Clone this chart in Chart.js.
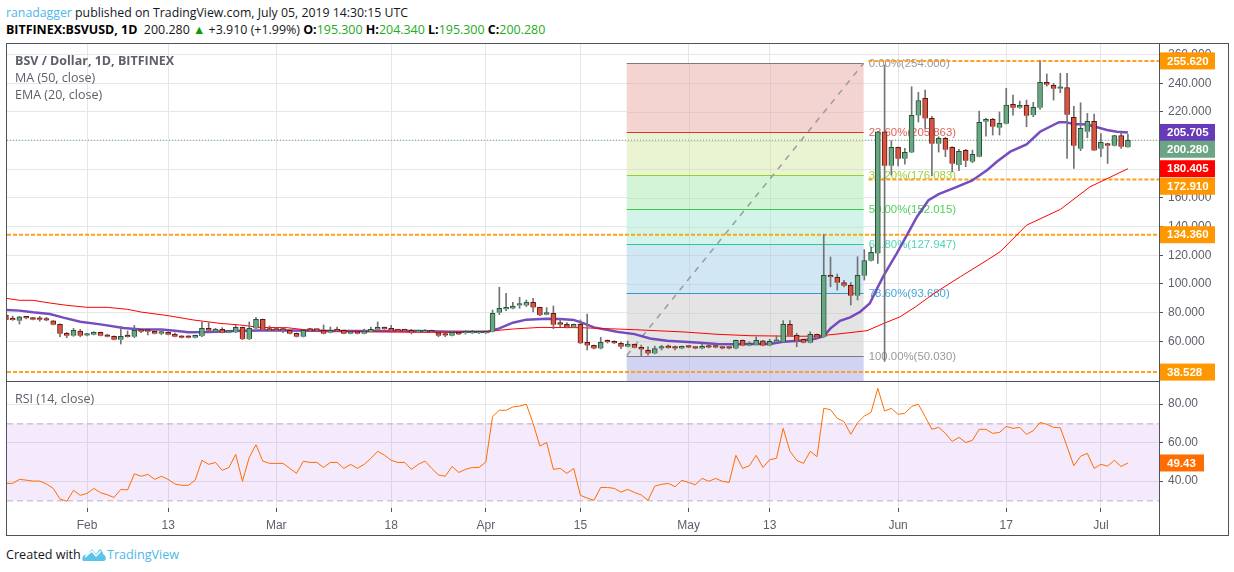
<!DOCTYPE html>
<html>
<head>
<meta charset="utf-8">
<title>BSV / Dollar</title>
<script src="https://cdn.jsdelivr.net/npm/chart.js@4/dist/chart.umd.min.js"></script>
<style>
  body { margin: 0; background: #fff; width: 1234px; height: 572px; overflow: hidden; font-family: "Open Sans", sans-serif; }
  canvas { position: absolute; }
  .txt { position: absolute; white-space: nowrap; }
  .line1 { left: 6px; top: 4px; font-size: 12.3px; color: #131722; }
  .line2 { left: 6px; top: 21px; font-size: 12.45px; color: #131722; }
  .line2 b { color: #000; }
  .up { color: #22ab22; }
  .blue { color: #4db8e8; }
  .leg { left: 15px; font-size: 12.5px; color: #5d606b; z-index: 2; }
  #frame { position: absolute; left: 6px; top: 43px; width: 1221px; height: 491px; border: 1px solid #50535e; z-index: 3; pointer-events: none; }
  #sep { position: absolute; left: 6px; top: 381px; width: 1153px; height: 1px; background: #50535e; z-index: 3; }
  #sep2 { position: absolute; left: 1159px; top: 44px; width: 1px; height: 491px; background: #50535e; z-index: 3; }
  #brand { left: 6px; top: 546px; font-size: 12.6px; color: #131722; }
  #brand2 { left: 107px; top: 546px; font-size: 12.6px; }
  #logo { position: absolute; left: 82px; top: 546px; }
</style>
</head>
<body>
<div class="txt line1"><span class="blue">ranadagger</span> published on TradingView.com, July 05, 2019 14:30:15 UTC</div>
<div class="txt line2"><b>BITFINEX:BSVUSD, 1D</b>&nbsp; 200.280 <span style="color:#0a9a0a">▲</span> +3.910 (+1.99%) <b>O:</b><span class="up">195.300</span> <b>H:</b><span class="up">204.340</span> <b>L:</b><span class="up">195.300</span> <b>C:</b><span class="up">200.280</span></div>
<div id="frame"></div><div id="sep"></div><div id="sep2"></div>
<canvas id="price" width="1221" height="337" style="left:7px;top:44px"></canvas>
<canvas id="rsi" width="1221" height="154" style="left:7px;top:381px"></canvas>
<div class="txt leg" style="top:52px"><b>BSV / Dollar, 1D, BITFINEX</b></div>
<div class="txt leg" style="top:69px">MA (50, close)</div>
<div class="txt leg" style="top:86px">EMA (20, close)</div>
<div class="txt leg" style="top:390px">RSI (14, close)</div>
<div class="txt" id="brand">Created with</div>
<div class="txt blue" id="brand2">TradingView</div>
<svg id="logo" width="24" height="16" viewBox="0 0 24 16"><path d="M1 15 C-1 11 2 8 5 9 L10 3 L14 8 L18 3 C20 4 21 6 21 8 C24 9 25 14 22 15 Z" fill="#5cc3ea"/><path d="M3 11 L10 5 L14 10 L19 5" fill="none" stroke="#fff" stroke-width="1.5"/></svg>

<script>
// days are counted from Feb 1 2019, first candle is Jan 20
const firstDay = -12
const opens = [
  78.3,74.9,74.4,76.7,76.2,76.2,75.8,74.2,71.8,65.5,
  63.9,67.2,64,64.6,66.2,64.4,63.5,61.1,63.7,63.2,
  68.1,67.2,66.9,65.3,66.2,65.1,63.7,63.7,62.5,63.5,
  69,67.2,68.3,66,66.5,69.7,61.4,69,75.3,68.3,
  67.7,67.7,67.6,65.6,63.2,68.3,67.9,67.6,66,67.6,
  67.6,65.3,66.5,65.3,66.7,68.1,69.7,69,67.6,67.4,
  67.6,66.5,66.5,67.6,66,64.4,63.9,66.2,65.6,65.6,
  65.6,65.6,66.7,80,82.3,82.8,85,84.9,87.2,83.7,
  78.6,79.5,72.1,71.8,70,71.8,59.3,57.2,54.9,60.4,
  59.5,58.6,56.2,57.9,55.8,53.7,51.4,54.9,55.8,56,
  54.9,56.5,55.8,54.9,56.5,56,55.8,55.8,54.9,60.7,
  57,57.6,60.4,57,59.7,59.7,71.8,64.2,61.4,59,
  64.8,63,106,104.6,101,99,91.8,105.7,116.2,121.3,
  206.2,182.5,195.3,187.4,191.8,217.6,229.5,215.5,197.8,201.6,
  195.3,183,193.2,185.3,188.8,213.2,214.8,209,211.8,225.3,
  223,224.6,218,223,240.6,238.5,236.2,237.1,216.2,194.3,
  206.2,213.4,194.3,198,196.4,203.6,195.3
]
const highs = [
  78.6,77.6,77.3,77.2,76.5,77.4,76.7,74.5,72.1,66.2,
  69,68.3,65.3,66.7,66.5,64.8,63.8,70.2,67.2,71.1,
  68.6,67.4,67.1,67.2,66.4,65.8,63.9,63.9,64.4,73.5,
  73,69,69.5,67.1,71.1,69.9,73.5,76.7,75.5,70.7,
  69.7,69.7,67.8,65.8,67.8,69,68.1,71.4,70,70,
  67.8,66.9,66.7,68.6,70,73.5,69.9,71.1,67.8,67.6,
  68.3,67.2,68.2,67.8,66.9,65.5,67.2,66.9,67.4,67.6,
  66.7,66.9,81.8,97.7,93.5,87.2,90.7,88.8,90,83.9,
  83.5,84.6,75.8,73,72,74.9,79,57.4,62.8,61,
  60.4,59.7,60.2,58.1,57.4,56.2,56.7,57.2,57.4,56.7,
  56.7,56.9,56,58.1,57.6,58.1,56,56,60.9,60.9,
  59.7,63.2,60.6,61.4,63.9,74.4,74.4,65.6,61.6,66.6,
  65,134.6,118.8,106.9,102.6,101,119,124,125.9,206.4,
  252.7,200,195.5,194.6,237.6,233.7,235.3,217,202.7,202.3,
  195.8,193.9,193.9,193.4,220.6,215.5,215.5,220,236.5,231.8,
  227.6,228.3,226.7,255.8,246.5,240,246.9,246.9,224,226.4,
  219,218.5,205,198.2,203.8,205.5,204.34
]
const lows = [
  74.5,74.6,72,75.6,74.9,74,74.3,71.4,63.2,62.5,
  63.5,63.2,63.8,64.4,63.7,63,60.9,58.1,62.8,62.5,
  66,64.4,65.1,64.6,64.4,63,62.3,62.3,62.3,63.3,
  67.2,67,65.8,65.8,66,61.2,61.2,68.8,67.9,67.2,
  67.2,66,65.1,63,63,67.2,67.2,65.1,65.8,67,
  65.1,65.1,65.1,65.1,66.5,67.4,68.4,67.2,67,67,
  65.1,66.3,66.3,66,63.2,63.2,63.7,64.6,65,65.4,
  65.4,65.4,66.5,78.6,81.4,82.6,83,84.2,80.5,77.9,
  78.4,68.8,70.2,69.3,69.8,58.4,53.9,54.7,54.7,58.8,
  58.4,54.9,56,55.3,50,50.4,51.2,53.9,55.1,53.9,
  54.7,55.4,54.7,54.7,55.4,55.4,54.7,54.7,54.7,56.8,
  56.8,57.4,56.8,56.8,59.5,59.5,63.7,56.2,58.8,58.8,
  62.3,62.8,98,95.7,98,85.3,88.8,102.7,115.9,114.3,
  46,176,182.3,183.6,191.6,213,208.5,175.3,192,188.8,
  178.3,179,181.8,184.6,188.6,203.2,203.9,203.9,211.6,217.8,
  222.5,209.7,216.7,221.8,238,228.3,233.4,187.6,180.6,193,
  202,193,188.8,184.1,196.2,194.6,195.3
]
const closes = [
  74.9,74.8,77,76,75.1,75,74.5,71.6,65.3,63.9,
  67.6,63.9,65.1,66.2,63.9,63.2,61.1,63.5,63,67.6,
  66.7,66.7,65.3,66.5,64.6,63.2,62.5,62.5,64.2,69,
  67.4,68.3,66,66.9,69.7,61.4,69,75.3,68.1,67.4,
  67.4,67.4,65.3,63.2,67.6,67.4,67.4,65.3,67.6,67.2,
  65.3,66.7,65.3,67.2,68.3,69.7,68.6,67.4,67.2,67.2,
  66,67,67.6,66.2,63.9,64,66.2,64.8,66.5,66.5,
  66.3,66.5,79.5,83,83.2,84.6,85.2,87.4,83.5,78.1,
  79.5,71.6,71.6,70,71.8,58.6,57,54.9,59.3,59.3,
  58.6,56.2,58.1,55.5,54.2,51.4,55,55.8,55.4,54.9,
  56.5,55.6,54.9,56.5,55.6,55.6,54.9,54.9,60.7,57,
  58.1,60.7,57,60,60.2,71.8,63.9,60.2,59,64.8,
  62.5,106,104.8,100.8,98.8,91.8,106,116.4,122,206.2,
  182.5,195.3,187.4,191.8,217.6,228,215.5,197.8,201.6,193.6,
  183.9,192.5,186,190.4,212.7,214.8,209.7,212,224.8,223,
  224.6,217.4,223.2,240.6,239,236.2,237.1,218,196.4,208.5,
  213.4,193.2,198.8,196.4,203.6,195.7,200.28
]
// EMA and MA were read at these days only
const emaDays = [-12,-10,-8,-5.5,-3.5,-1,2,5.4,8,11,13,15,18,22,27,36.5,49,53.7,59.3,61,63,65,68,70,72,73.5,75,78.4,81,83.3,85.8,88.3,90.7,93.2,95.7,98.1,101,103,105.5,107.7,109,110,111.4,112.9,114.4,115.8,116.9,117.9,119.8,121.3,122.8,124.5,126,128.7,130.9,133.2,134.6,136.6,139,141,143.8,144.7,146,148,150.9,152.4,154]
const emaValues = [81.8,81.4,80.2,79,76.5,73.7,71.8,69.3,68.3,68.3,67.4,66.3,66.5,67.2,67.7,67.2,67.2,66.7,66.7,69,73,75.1,75.8,75.6,74.9,72.5,69.7,66.7,65,62,60.4,59.7,59,58.1,57.9,58.1,58.1,59.7,60.4,61.8,63.6,69,74.3,76.7,80.6,86.4,96.9,106.2,121.3,134.1,146.9,158.5,162.7,167.8,172,179.5,185.3,192.3,197.4,206.2,212.9,212.9,211.6,211.3,207.4,206.2,205.705]
const maDays = [-12,-10,-8,-5.5,-3,0,3,6,8,12,15.7,19.7,22.6,25.6,29.6,32.5,41.4,48.8,51.3,59.2,63.1,67,73,81,88.3,93.2,98.1,105.5,107.7,110.5,115.4,117.9,120.3,122.6,125.3,129.2,133.2,135.1,139,144,148.4,154]
const maValues = [90,88.6,88.6,86.7,85.1,83.7,83.7,82.3,80.4,77.9,74.9,72.5,71.4,69.7,69.5,67.9,66.7,66.3,66.3,66.95,68.6,69.7,69.5,68.1,66.5,64.9,63.9,63.5,63.6,64.8,67.4,72.5,77.1,84.1,93.4,105,116.7,122.5,141,152,167.8,180.405]
const rsiValues = [
  38.8,38.8,40.9,40.5,40,40,38.5,36.2,30.7,29.5,
  35.2,32.6,33.6,36.2,34,32.9,31.5,35.7,35.4,43.8,
  42.5,43.5,40.9,42.5,40.9,38.5,37.8,37.8,40.5,50.8,
  48.7,49.7,45.6,47.1,53.9,39.9,52.3,58.9,50.4,49.2,
  49.2,49.2,46.6,44,50.3,49.7,49.7,47.1,49.7,49.7,
  46.6,48.7,46.6,48.7,51.8,55.5,53.5,50.8,49.7,49.7,
  46.1,48.7,50.4,46.6,43.2,42.5,47.6,44.5,46.1,47.1,
  47.1,49.9,73.5,76.8,76.8,78.5,79,79.9,70,58.2,
  60.1,46.1,46.6,44,46.6,32.6,31.2,30,36.7,36.7,
  36.2,34.3,35.7,34.1,32.8,30,37.4,38.3,38.8,37.1,
  40.4,39.3,38.1,41.4,39.9,41.4,39.9,39.3,53.4,46.6,
  48,53.4,47.1,51.1,51.8,67.4,55.5,50.8,49.2,55.5,
  52.7,77.8,77.1,72.6,70.9,64.3,70.3,73.8,75.7,88.2,
  76.4,77.8,74.7,75.2,78.8,79.9,73.5,66.9,67.9,64.8,
  60.6,62.7,60.1,61.2,66.9,66.9,64.8,65.3,68.4,67.4,
  67.9,64.3,66.2,70.5,69.5,67.9,67.7,57.9,48,52.9,
  54.4,46.6,48.7,47.8,50.8,47.6,49.43
]

const tickDays = [0,12,28,45,59,73,89,101,120,136,150]
const tickLabels = ['Feb','13','Mar','18','Apr','15','May','13','Jun','17','Jul']
const priceTicks = [60,80,100,120,140,160,180,200,220,240,260]
const rsiTicks = [40,60,80]

const xMin = -11.84
const xMax = 158.6

const levels = [255.62,172.91,134.36,38.528]
// the two upper levels were only drawn from the end of the fib box
const levelStarts = [115.6,115.6,xMin,xMin]
const lastPrice = 200.28

const fibStart = 79.85
const fibEnd = 114.9
const fibPrices = [254,205.863,176.083,152.015,127.947,93.68,50.03]
const fibNames = ['0.00%(254.000)','23.60%(205.863)','38.20%(176.083)','50.00%(152.015)','61.80%(127.947)','78.60%(93.680)','100.00%(50.030)']
const fibLines = ['#787b86','#d9342b','#8fd42a','#3cc94a','#26c9a0','#3b95c8','#787b86']
const fibFills = ['#f4d4d1','#eaf4d3','#d4f4d8','#d3f4e9','#d1e8f4','#e4e4e4']
const fibBelow = '#d2d2f2'
const fibLabelColors = ['#999999','#e0605a','#a2cf3a','#4fd05a','#4dd6b3','#48a6d6','#999999']

const tagValues = [255.62,205.705,200.28,180.405,172.91,134.36,38.528]
const tagTexts = ['255.620','205.705','200.280','180.405','172.910','134.360','38.528']
const tagColors = ['#ff9800','#673ab7','#6ba583','#ff0000','#ff9800','#ff9800','#ff9800']
const tagShifts = [0,0,9,0,6.8,0,0]

const font = 'Liberation Sans'
const axisColor = '#50535e'
const gridColor = '#e6e6e6'

const days = closes.map((c, i) => i + firstDay)
const upColor = '#6ba583'
const downColor = '#d75442'

function noPadding(axis) {
  axis.paddingTop = axis.paddingBottom = axis.paddingLeft = axis.paddingRight = 0
}

function makeXAxis(showTicks) {
  return {
    type: 'linear', min: xMin, max: xMax, offset: false,
    afterBuildTicks: axis => { axis.ticks = tickDays.map(v => ({value: v})) },
    grid: {color: gridColor, offset: false, drawTicks: showTicks, tickColor: axisColor, tickLength: 4},
    border: {display: false},
    ticks: {
      display: showTicks, autoSkip: false, maxRotation: 0, padding: 6,
      color: '#5d606b', font: {family: font, size: 12},
      callback: v => tickLabels[tickDays.indexOf(v)]
    },
    afterFit: axis => { axis.height = showTicks ? 27 : 0; noPadding(axis) }
  }
}

function makeYAxis(min, max, ticks, digits) {
  return {
    position: 'right', min: min, max: max,
    afterBuildTicks: axis => { axis.ticks = ticks.map(v => ({value: v})) },
    grid: {color: gridColor, tickColor: axisColor, tickLength: 4},
    border: {display: false},
    ticks: {color: '#5d606b', padding: 5, font: {family: font, size: 12}, callback: v => v.toFixed(digits)},
    afterFit: axis => { axis.width = 69; noPadding(axis) }
  }
}

// coloured price tags on the right axis
function drawTag(chart, scale, value, shift, text, color, w) {
  const ctx = chart.ctx
  const x = chart.chartArea.right
  const y = scale.getPixelForValue(value) + shift
  ctx.save()
  ctx.fillStyle = color
  ctx.fillRect(x, y - 8.5, w, 17)
  ctx.fillStyle = '#fff'
  ctx.font = 'bold 11.5px "' + font + '"'
  ctx.textAlign = 'left'
  ctx.textBaseline = 'middle'
  ctx.fillText(text, x + 8, y + 0.5)
  ctx.restore()
}

const fibPlugin = {
  id: 'fib',
  beforeDatasetsDraw(chart) {
    const ctx = chart.ctx, x = chart.scales.x, y = chart.scales.y
    const left = x.getPixelForValue(fibStart), right = x.getPixelForValue(fibEnd)
    ctx.save()
    fibFills.forEach((c, i) => {
      ctx.fillStyle = c
      ctx.fillRect(left, y.getPixelForValue(fibPrices[i]), right - left, y.getPixelForValue(fibPrices[i + 1]) - y.getPixelForValue(fibPrices[i]))
    })
    ctx.fillStyle = fibBelow
    ctx.fillRect(left, y.getPixelForValue(fibPrices[6]), right - left, chart.chartArea.bottom - y.getPixelForValue(fibPrices[6]))
    // grid shows through the bands in the original
    ctx.strokeStyle = 'rgba(120,120,120,0.12)'
    ctx.lineWidth = 1
    ctx.beginPath()
    priceTicks.forEach(t => {
      const py = Math.round(y.getPixelForValue(t)) + 0.5
      if (t < fibPrices[0]) { ctx.moveTo(left, py); ctx.lineTo(right, py) }
    })
    tickDays.forEach(t => {
      const v = x.getPixelForValue(t)
      if (v > left && v < right) { ctx.moveTo(Math.round(v) + 0.5, y.getPixelForValue(fibPrices[0])); ctx.lineTo(Math.round(v) + 0.5, chart.chartArea.bottom) }
    })
    ctx.stroke()
    fibPrices.forEach((p, i) => {
      const py = Math.round(y.getPixelForValue(p)) + 0.5
      ctx.strokeStyle = fibLines[i]
      ctx.lineWidth = 1
      ctx.beginPath(); ctx.moveTo(left, py); ctx.lineTo(right, py); ctx.stroke()
      ctx.fillStyle = fibLabelColors[i]
      ctx.font = '11.4px "' + font + '"'
      ctx.textBaseline = 'middle'
      ctx.fillText(fibNames[i], right + 5, py)
    })
    ctx.restore()
  },
  afterDraw(chart) {
    tagValues.forEach((v, i) => drawTag(chart, chart.scales.y, v, tagShifts[i], tagTexts[i], tagColors[i], 56))
  }
}

const rsiPlugin = {
  id: 'rsiBand',
  beforeDatasetsDraw(chart) {
    const ctx = chart.ctx, y = chart.scales.y, a = chart.chartArea
    const top = y.getPixelForValue(70), bottom = y.getPixelForValue(30)
    ctx.save()
    ctx.fillStyle = 'rgba(155,40,230,0.1)'
    ctx.fillRect(a.left, top, a.right - a.left, bottom - top)
    ctx.strokeStyle = '#b8aec0'
    ctx.setLineDash([6, 4])
    ctx.beginPath()
    ctx.moveTo(a.left, top + 0.5); ctx.lineTo(a.right, top + 0.5)
    ctx.moveTo(a.left, bottom + 0.5); ctx.lineTo(a.right, bottom + 0.5)
    ctx.stroke()
    ctx.restore()
  },
  afterDraw(chart) {
    const last = rsiValues[rsiValues.length - 1]
    drawTag(chart, chart.scales.y, last, 0, last.toFixed(2), '#ff6d00', 45)
  }
}

const levelSets = levels.map((v, i) => ({
  type: 'line', order: 3, pointRadius: 0, borderColor: '#ffa01e', borderWidth: 2, borderDash: [4, 2],
  data: [{x: levelStarts[i], y: v}, {x: xMax, y: v}]
}))

new Chart(document.getElementById('price'), {
  data: {
    datasets: [
      {type: 'bar', order: 0, grouped: false, barThickness: 5, minBarLength: 2, borderWidth: 1,
        backgroundColor: closes.map((c, i) => c >= opens[i] ? upColor : downColor),
        borderColor: closes.map((c, i) => c >= opens[i] ? '#225437' : '#5b1a13'),
        data: days.map((d, i) => ({x: d, y: [opens[i], closes[i]]}))},
      {type: 'bar', order: 1, grouped: false, barThickness: 1, backgroundColor: '#737375',
        data: days.map((d, i) => ({x: d, y: [lows[i], highs[i]]}))},
      {type: 'line', order: 2, pointRadius: 0, borderColor: '#ff0000', borderWidth: 1,
        data: maDays.map((d, i) => ({x: d, y: maValues[i]}))},
      {type: 'line', order: 2, pointRadius: 0, borderColor: 'rgba(103,58,183,0.9)', borderWidth: 2.5,
        data: emaDays.map((d, i) => ({x: d, y: emaValues[i]}))},
      {type: 'line', order: 4, pointRadius: 0, borderColor: '#6ba583', borderWidth: 1, borderDash: [1, 2],
        data: [{x: xMin, y: lastPrice}, {x: xMax, y: lastPrice}]},
      {type: 'line', order: 4, pointRadius: 0, borderColor: '#9b9b9b', borderWidth: 1.5, borderDash: [6, 6],
        data: [{x: fibStart, y: fibPrices[6]}, {x: fibEnd, y: fibPrices[0]}]},
      ...levelSets
    ]
  },
  options: {
    responsive: false, animation: false,
    plugins: {legend: {display: false}, tooltip: {enabled: false}},
    layout: {padding: 0},
    scales: {x: makeXAxis(false), y: makeYAxis(32.3, 267.42, priceTicks, 3)}
  },
  plugins: [fibPlugin]
})

new Chart(document.getElementById('rsi'), {
  type: 'line',
  data: {
    datasets: [{pointRadius: 0, borderColor: '#ff6d00', borderWidth: 1,
      data: days.map((d, i) => ({x: d, y: rsiValues[i]}))}]
  },
  options: {
    responsive: false, animation: false,
    plugins: {legend: {display: false}, tooltip: {enabled: false}},
    layout: {padding: 0},
    scales: {x: makeXAxis(true), y: makeYAxis(26.03, 92, rsiTicks, 2)}
  },
  plugins: [rsiPlugin]
})
</script>
</body>
</html>
